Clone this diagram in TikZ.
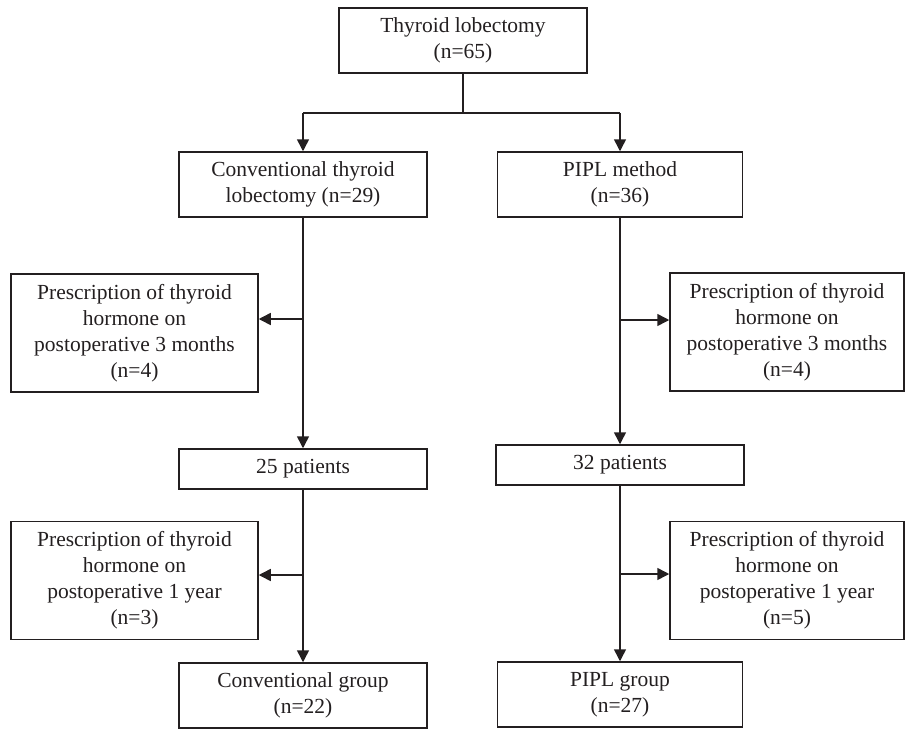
\documentclass[tikz,border=0pt]{standalone}
\usepackage{fontspec}
\setmainfont{Liberation Serif}
\usetikzlibrary{arrows.meta}
\definecolor{ink}{HTML}{231F20}
\tikzset{
  box/.style={draw=ink, line width=1.5pt, rectangle, align=center, inner sep=0pt,
    font=\fontsize{21.5pt}{26pt}\selectfont, text=ink},
  wbox/.style={box, minimum width=248pt, minimum height=65pt},
  sbox/.style={box, minimum width=248pt, minimum height=40pt},
  pboxL/.style={box, minimum width=247pt, minimum height=118pt},
  pboxR/.style={box, minimum width=234pt, minimum height=118pt},
  ln/.style={draw=ink, line width=1.5pt},
  arr/.style={ln, -{Triangle[width=12pt,length=12pt]}}
}
\begin{document}
\begin{tikzpicture}[x=1pt,y=-1pt]
\useasboundingbox (0,0) rectangle (906,729);
\node[wbox] (top) at (463,40.5) {Thyroid lobectomy\\(n=65)};
\node[wbox] (conv) at (303,184.5) {Conventional thyroid\\lobectomy (n=29)};
\node[wbox, minimum width=245pt] (pipl) at (620,184.5) {PIPL method\\(n=36)};
\node[pboxL] (pa) at (134.5,333) {Prescription of thyroid\\hormone on\\postoperative 3 months\\(n=4)};
\node[pboxR] (pb) at (787,332) {Prescription of thyroid\\hormone on\\postoperative 3 months\\(n=4)};
\node[sbox] (p25) at (303,469) {25 patients};
\node[sbox] (p32) at (620,465) {32 patients};
\node[pboxL] (pc) at (134.5,580.5) {Prescription of thyroid\\hormone on\\postoperative 1 year\\(n=3)};
\node[pboxR] (pd) at (787,580.5) {Prescription of thyroid\\hormone on\\postoperative 1 year\\(n=5)};
\node[wbox] (cg) at (303,695.5) {Conventional group\\(n=22)};
\node[wbox, minimum width=245pt] (pg) at (620,694.5) {PIPL group\\(n=27)};
% branch
\coordinate (b0) at (463,113);
\coordinate (bl) at (303,113);
\coordinate (br) at (620,113);
\draw[ln] (top.south) -- (b0);
\draw[ln] (bl) -- (br);
\draw[arr] (bl) -- (conv.north);
\draw[arr] (br) -- (pipl.north);
% vertical flows
\draw[arr] (conv.south) -- (p25.north);
\draw[arr] (pipl.south) -- (p32.north);
\draw[arr] (p25.south) -- (cg.north);
\draw[arr] (p32.south) -- (pg.north);
% side arrows
\coordinate (j1) at (303,319);
\coordinate (j2) at (620,320);
\coordinate (j3) at (303,575);
\coordinate (j4) at (620,574);
\draw[arr] (j1) -- (j1 -| pa.east);
\draw[arr] (j2) -- (j2 -| pb.west);
\draw[arr] (j3) -- (j3 -| pc.east);
\draw[arr] (j4) -- (j4 -| pd.west);
\end{tikzpicture}
\end{document}
